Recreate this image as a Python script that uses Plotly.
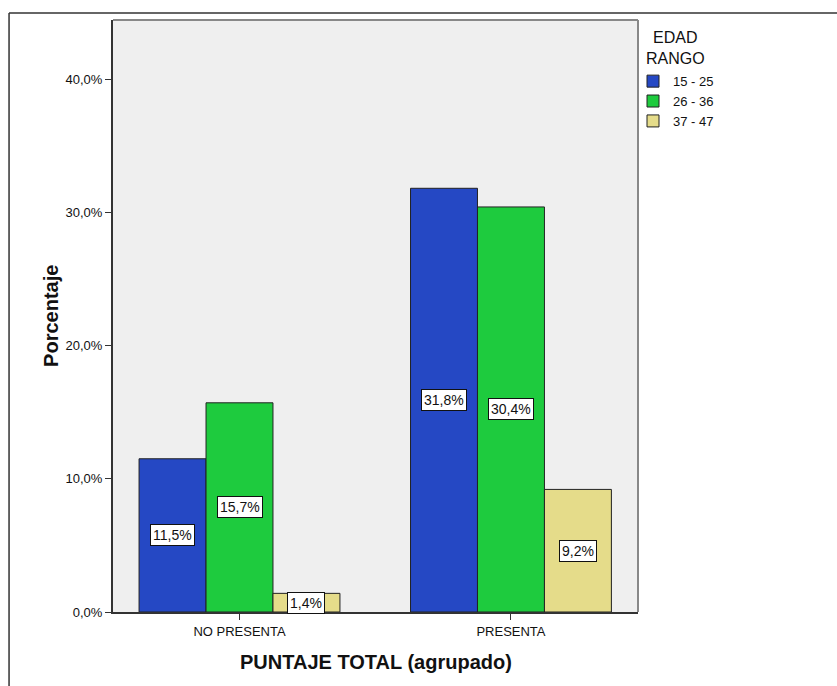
import plotly.graph_objects as go

# Percentage of cases by grouped total score and age range
categories = ["NO PRESENTA", "PRESENTA"]
age_ranges = ["15 - 25", "26 - 36", "37 - 47"]
values = {
    "15 - 25": [11.5, 31.8],
    "26 - 36": [15.7, 30.4],
    "37 - 47": [1.4, 9.2],
}
colors = {
    "15 - 25": "#2548c4",
    "26 - 36": "#1ecb3e",
    "37 - 47": "#e5dc8a",
}
y_ticks = [0, 10, 20, 30, 40]

FONT = "Liberation Sans, Arial, sans-serif"
bargap = 0.26
bar_w = (1 - bargap) / len(age_ranges)

fig = go.Figure()
for name in age_ranges:
    fig.add_trace(go.Bar(
        name=name,
        x=list(range(len(categories))),
        y=values[name],
        marker=dict(color=colors[name], line=dict(color="#222222", width=1)),
        hoverinfo="skip",
    ))

# value labels in white boxes centred on each bar
annotations = []
for k, name in enumerate(age_ranges):
    offset = (k - (len(age_ranges) - 1) / 2) * bar_w
    for i, v in enumerate(values[name]):
        annotations.append(dict(
            x=i + offset, y=v / 2, xref="x", yref="y",
            text=f"{v:.1f}%".replace(".", ","),
            showarrow=False,
            font=dict(family=FONT, size=14, color="#111111"),
            bgcolor="white", bordercolor="#111111", borderwidth=1, borderpad=2,
        ))

# axis titles
annotations.append(dict(
    x=-0.143, y=0.5, xref="paper", yref="paper", text="<b>Porcentaje</b>",
    textangle=-90, showarrow=False, font=dict(family=FONT, size=20, color="#111111"),
))
annotations.append(dict(
    x=0.5, y=-0.085, xref="paper", yref="paper", text="<b>PUNTAJE TOTAL (agrupado)</b>",
    showarrow=False, yanchor="middle", font=dict(family=FONT, size=20, color="#111111"),
))
# legend heading, centred above the legend entries
annotations.append(dict(
    x=1.072, y=0.953, xref="paper", yref="paper", text="EDAD<br>RANGO",
    showarrow=False, xanchor="center", yanchor="middle", align="center",
    font=dict(family=FONT, size=16, color="#111111"),
))

shapes = [
    # outer frame (top and left edges)
    dict(type="line", xref="paper", yref="paper", x0=-0.198, x1=1.4, y0=1.012, y1=1.012,
         line=dict(color="#333333", width=1.5)),
    dict(type="line", xref="paper", yref="paper", x0=-0.198, x1=-0.198, y0=1.012, y1=-0.2,
         line=dict(color="#333333", width=1.5)),
    # plot area top and right border
    dict(type="line", xref="paper", yref="paper", x0=0, x1=1, y0=1, y1=1,
         line=dict(color="#888888", width=2)),
    dict(type="line", xref="paper", yref="paper", x0=1, x1=1, y0=0, y1=1,
         line=dict(color="#888888", width=2)),
]

fig.update_layout(
    width=837, height=686,
    margin=dict(l=113, r=199, t=20, b=74),
    paper_bgcolor="white",
    plot_bgcolor="#efefef",
    barmode="group", bargap=bargap, bargroupgap=0,
    separators=",.",
    font=dict(family=FONT, size=12, color="#111111"),
    xaxis=dict(
        range=[-0.466, 1.468],
        tickmode="array", tickvals=list(range(len(categories))), ticktext=categories,
        ticks="outside", ticklen=6, tickcolor="#333333",
        showline=True, linecolor="#333333", linewidth=2,
        showgrid=False, zeroline=False,
        tickfont=dict(family=FONT, size=13, color="#111111"),
    ),
    yaxis=dict(
        range=[0, 44.43],
        tickmode="array", tickvals=y_ticks,
        ticktext=[f"{t:.1f}%".replace(".", ",") for t in y_ticks],
        ticks="outside", ticklen=6, tickcolor="#333333",
        showline=True, linecolor="#333333", linewidth=2,
        showgrid=False, zeroline=False,
        tickfont=dict(family=FONT, size=13, color="#111111"),
    ),
    legend=dict(
        x=0.9905, y=0.922, xanchor="left", yanchor="top",
        font=dict(family=FONT, size=13, color="#111111"),
        bgcolor="rgba(0,0,0,0)", tracegroupgap=0, itemwidth=30,
    ),
    annotations=annotations,
    shapes=shapes,
)

fig.write_html("out.html")
